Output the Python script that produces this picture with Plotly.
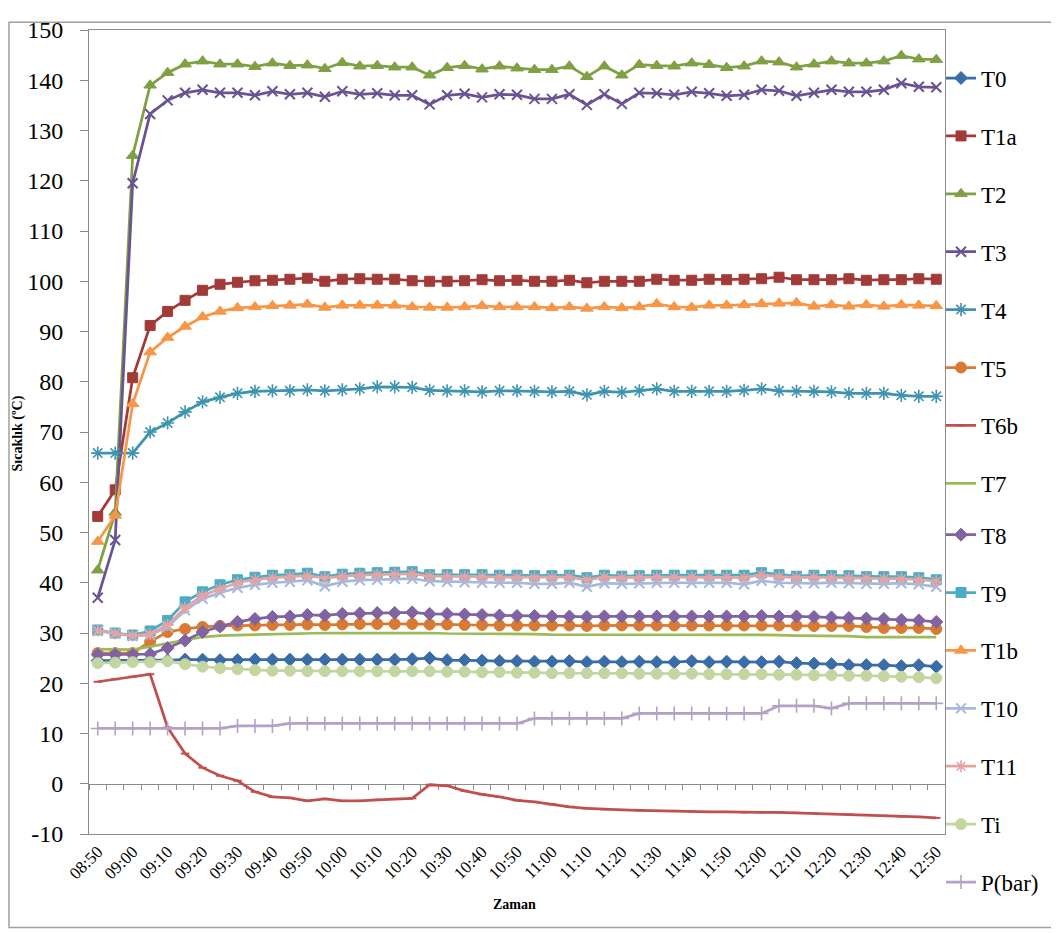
import plotly.graph_objects as go

times = []
for k in range(49):
    m = 8 * 60 + 50 + 5 * k
    times.append(f"{m // 60:02d}:{m % 60:02d}")
tick_labels = times[::2]
y_ticks = list(range(-10, 151, 10))
y_tick_text = [str(v) for v in y_ticks]

T0 = [24.5,24.5,24.5,24.6,24.6,24.7,24.7,24.6,24.6,24.7,
      24.7,24.7,24.7,24.7,24.7,24.7,24.7,24.7,24.8,25.0,
      24.6,24.6,24.5,24.4,24.4,24.3,24.3,24.4,24.2,24.3,
      24.2,24.3,24.2,24.2,24.4,24.2,24.3,24.2,24.2,24.3,
      24.0,23.9,23.8,23.6,23.6,23.6,23.4,23.6,23.3]
T1a = [53.2,58.5,80.8,91.2,94.0,96.2,98.2,99.4,99.8,100.1,
       100.2,100.4,100.6,100.0,100.4,100.5,100.4,100.4,100.1,100.0,
       100.0,100.1,100.3,100.1,100.2,100.0,100.0,100.2,99.7,100.0,
       100.0,100.0,100.4,100.2,100.2,100.4,100.3,100.4,100.5,100.8,
       100.3,100.3,100.3,100.5,100.2,100.3,100.3,100.5,100.4]
T2 = [42.5,54.0,125.0,139.0,141.5,143.2,143.8,143.2,143.2,142.7,
      143.4,142.9,143.0,142.3,143.5,142.8,142.9,142.6,142.6,141.0,
      142.5,142.9,142.2,142.8,142.4,142.1,142.1,142.8,140.7,142.8,
      141.0,143.1,142.9,142.8,143.4,143.1,142.5,142.8,143.8,143.6,
      142.6,143.2,143.8,143.4,143.4,143.8,144.9,144.2,144.1]
T3 = [37.0,48.5,119.5,133.3,136.0,137.5,138.1,137.5,137.5,137.0,
      137.8,137.2,137.5,136.7,137.8,137.2,137.4,137.0,137.0,135.2,
      137.0,137.3,136.6,137.2,137.1,136.3,136.3,137.2,135.1,137.2,
      135.3,137.5,137.4,137.1,137.7,137.4,136.9,137.1,138.1,137.9,
      136.9,137.5,138.1,137.7,137.7,138.1,139.4,138.7,138.6]
T4 = [65.8,65.8,65.8,70.0,71.8,74.0,76.0,76.9,77.7,78.1,
      78.2,78.2,78.4,78.2,78.4,78.6,79.0,79.0,78.9,78.3,
      78.2,78.2,78.0,78.2,78.2,78.1,78.0,78.1,77.4,78.1,
      77.9,78.2,78.6,78.1,78.1,78.1,78.1,78.3,78.6,78.2,
      78.1,78.1,78.0,77.7,77.7,77.7,77.3,77.1,77.1]
T5 = [26.0,26.0,26.0,28.3,30.2,30.8,31.2,31.4,31.5,31.5,
      31.6,31.6,31.7,31.6,31.7,31.8,31.8,31.8,31.8,31.7,
      31.7,31.6,31.6,31.5,31.5,31.5,31.5,31.5,31.4,31.5,
      31.5,31.5,31.5,31.5,31.5,31.5,31.5,31.5,31.5,31.5,
      31.5,31.4,31.4,31.4,31.2,31.0,31.0,31.0,30.8]
T6b = [20.3,20.8,21.3,21.8,11.2,6.0,3.2,1.6,0.6,-1.6,
       -2.6,-2.8,-3.4,-3.0,-3.4,-3.4,-3.2,-3.0,-2.9,-0.2,
       -0.4,-1.4,-2.1,-2.6,-3.3,-3.6,-4.1,-4.6,-4.9,-5.1,
       -5.2,-5.3,-5.4,-5.4,-5.5,-5.6,-5.6,-5.7,-5.7,-5.7,
       -5.8,-5.9,-6.0,-6.1,-6.2,-6.4,-6.5,-6.6,-6.8]
T7 = [26.8,26.7,26.7,27.3,28.0,28.6,29.2,29.5,29.6,29.7,
      29.8,29.9,30.0,30.0,30.0,30.0,30.0,30.1,30.1,30.0,
      29.9,29.9,29.9,29.8,29.8,29.8,29.7,29.7,29.6,29.6,
      29.6,29.6,29.6,29.6,29.6,29.6,29.6,29.6,29.6,29.6,
      29.5,29.5,29.5,29.4,29.2,29.2,29.2,29.2,29.2]
T8 = [25.7,25.7,25.7,25.8,27.0,28.5,30.2,31.3,32.2,32.8,
      33.2,33.3,33.6,33.5,33.8,33.9,34.0,34.0,34.1,33.8,
      33.8,33.7,33.6,33.5,33.4,33.4,33.3,33.3,33.2,33.3,
      33.3,33.3,33.3,33.3,33.3,33.3,33.3,33.3,33.4,33.3,
      33.3,33.2,33.1,33.0,32.9,32.8,32.6,32.5,32.2]
T9 = [30.6,30.0,29.6,30.4,32.5,36.2,38.2,39.6,40.6,41.1,
      41.5,41.6,41.9,41.2,41.7,41.9,42.0,42.1,42.2,41.6,
      41.6,41.6,41.6,41.5,41.5,41.4,41.4,41.5,41.0,41.5,
      41.3,41.4,41.5,41.5,41.5,41.5,41.5,41.5,42.0,41.6,
      41.3,41.5,41.4,41.4,41.2,41.2,41.2,41.0,40.6]
T1b = [48.2,53.4,75.6,85.9,88.8,91.0,92.9,94.0,94.7,94.9,
       95.1,95.2,95.4,94.8,95.2,95.2,95.2,95.2,94.9,94.8,
       94.8,94.9,95.1,94.9,94.9,94.9,94.7,94.9,94.6,94.9,
       94.7,94.9,95.5,94.9,94.8,95.2,95.2,95.3,95.5,95.6,
       95.7,95.0,95.3,95.0,95.3,95.0,95.3,95.2,95.1]
T10 = [30.4,29.9,29.4,29.6,31.2,34.5,36.8,38.0,39.0,39.6,
       40.0,40.2,40.5,39.3,40.2,40.5,40.6,40.8,40.8,40.3,
       40.2,40.1,40.0,40.0,40.0,39.8,39.8,40.0,39.2,39.9,
       39.8,39.9,40.0,40.0,40.0,40.0,40.0,39.7,40.4,40.0,
       39.9,39.9,40.0,39.9,39.8,39.8,39.9,39.7,39.2]
T11 = [30.5,29.9,29.5,29.8,31.6,35.0,37.5,38.8,40.0,40.6,
       41.0,41.2,41.4,40.9,41.3,41.5,41.6,41.7,41.8,41.3,
       41.3,41.2,41.2,41.1,41.1,41.0,41.0,41.1,40.6,41.1,
       41.0,41.1,41.1,41.1,41.1,41.1,41.1,41.0,41.6,41.2,
       41.0,41.1,41.0,41.0,40.9,40.8,40.8,40.6,40.3]
Ti = [24.0,24.1,24.2,24.2,24.4,23.8,23.3,23.0,22.8,22.6,
      22.5,22.5,22.4,22.4,22.4,22.4,22.4,22.4,22.4,22.4,
      22.3,22.3,22.2,22.2,22.1,22.1,22.0,22.0,22.0,22.0,
      22.0,21.9,21.9,21.9,21.9,21.8,21.8,21.8,21.8,21.7,
      21.7,21.6,21.6,21.5,21.5,21.4,21.3,21.2,21.0]
P_bar = [11,11,11,11,11,11,11,11,11.5,11.5,
         11.5,12,12,12,12,12,12,12,12,12,
         12,12,12,12,12,13,13,13,13,13,
         13,14,14,14,14,14,14,14,14,15.5,
         15.5,15.5,15,16,16,16,16,16,16]

series = [
    ("T0", T0, "#3A6DA8", "diamond", 10, 1),
    ("T1a", T1a, "#A23B38", "square", 10, 1),
    ("T2", T2, "#7FA043", "triangle-up", 11, 1),
    ("T3", T3, "#6B5293", "x-thin-open", 10, 2),
    ("T4", T4, "#3E93AE", "asterisk-open", 11, 1.6),
    ("T5", T5, "#D87A33", "circle", 11, 1),
    ("T6b", T6b, "#C0504D", "line-ew-open", 6, 2),
    ("T7", T7, "#9BBB59", None, 0, 0),
    ("T8", T8, "#8064A2", "diamond", 10, 1),
    ("T9", T9, "#4BACC6", "square", 10, 1),
    ("T1b", T1b, "#F79646", "triangle-up", 11, 1),
    ("T10", T10, "#A6B8DC", "x-thin-open", 10, 2),
    ("T11", T11, "#E6A3A1", "asterisk-open", 10, 1.6),
    ("Ti", Ti, "#C3D69F", "circle", 11, 1),
    ("P(bar)", P_bar, "#B3A2C7", "cross-thin-open", 10, 1.6),
]

fig = go.Figure()
for idx, (name, vals, col, sym, size, lw) in enumerate(series):
    if sym is None:
        mode = "lines"
        marker = None
    else:
        mode = "lines+markers"
        marker = dict(symbol=sym, size=size, color=col, line=dict(color=col, width=lw))
    fig.add_trace(go.Scatter(
        x=times, y=vals, name=name, mode=mode, marker=marker,
        line=dict(color=col, width=2.75), legendgroup=name,
        legend="legend" if idx < 8 else "legend2",
    ))

# helper trace for the horizontal axis drawn at y = 0
fig.add_trace(go.Scatter(x=times, y=[None] * len(times), xaxis="x2",
                         showlegend=False, hoverinfo="skip", mode="lines"))

# the page body adds an 8 px margin; lay the figure out in page pixels
OFF = 8
W, H = 1059 - OFF, 933 - OFF
plot_l, plot_r, plot_t, plot_b = 89, 945, 17, 834          # page pixels
L, R = plot_l - OFF, W - (plot_r - OFF)
T, B = plot_t - OFF, H - (plot_b - OFF)
pw, ph = W - L - R, H - T - B

def px_x(px):
    return (px - OFF - L) / pw

def px_y(py):
    return (H - B - (py - OFF)) / ph

grey = "#8C8C8C"
serif = "Liberation Serif"

legend_common = dict(xanchor="left", yanchor="top",
                     font=dict(family=serif, size=23, color="black"),
                     tracegroupgap=25, bgcolor="rgba(0,0,0,0)")

fig.update_layout(
    width=W, height=H,
    margin=dict(l=L, r=R, t=T, b=B),
    paper_bgcolor="white", plot_bgcolor="white",
    font=dict(family=serif, color="black"),
    showlegend=True,
    legend=dict(x=px_x(941), y=px_y(44), **legend_common),
    legend2=dict(x=px_x(941), y=px_y(508), **legend_common),
    xaxis=dict(type="category", range=[-0.5, 48.5], tickmode="array",
               tickvals=tick_labels, ticktext=tick_labels, tickangle=-45,
               tickfont=dict(family=serif, size=17, color="black"),
               showline=True, linecolor=grey, linewidth=1, mirror=True,
               ticks="", showgrid=False, zeroline=False,
               ticklabeloverflow="allow"),
    xaxis2=dict(type="category", range=[-0.5, 48.5], overlaying="x",
                anchor="free", position=10 / 160, showline=True,
                linecolor=grey, linewidth=1, ticks="outside", ticklen=5,
                tickcolor=grey, tickson="boundaries", tickmode="linear",
                tick0=0, dtick=1, showticklabels=False, showgrid=False,
                zeroline=False, layer="below traces"),
    yaxis=dict(range=[-10, 150], tickmode="array", tickvals=y_ticks,
               ticktext=y_tick_text, showgrid=False,
               zeroline=False, showline=True, linecolor=grey, linewidth=1,
               mirror=True, ticks="outside", ticklen=8, tickcolor=grey,
               ticklabelstandoff=12, ticklabeloverflow="allow",
               tickfont=dict(family=serif, size=24, color="black")),
    annotations=[
        dict(text="<b>Sıcaklık (ºC)</b>", xref="paper", yref="paper",
             x=px_x(18), y=px_y(427), xanchor="center", yanchor="middle",
             textangle=-90, showarrow=False,
             font=dict(family=serif, size=14, color="black")),
        dict(text="<b>Zaman</b>", xref="paper", yref="paper",
             x=px_x(514), y=px_y(906), xanchor="center", yanchor="middle",
             showarrow=False,
             font=dict(family=serif, size=14, color="black")),
    ],
    shapes=[
        dict(type="rect", xref="paper", yref="paper",
             x0=px_x(OFF + 1), x1=px_x(1055), y0=px_y(929), y1=px_y(OFF + 1),
             line=dict(color="#A0A0A0", width=1.5), fillcolor="rgba(0,0,0,0)",
             layer="below"),
    ],
)

fig.write_html("out.html")
